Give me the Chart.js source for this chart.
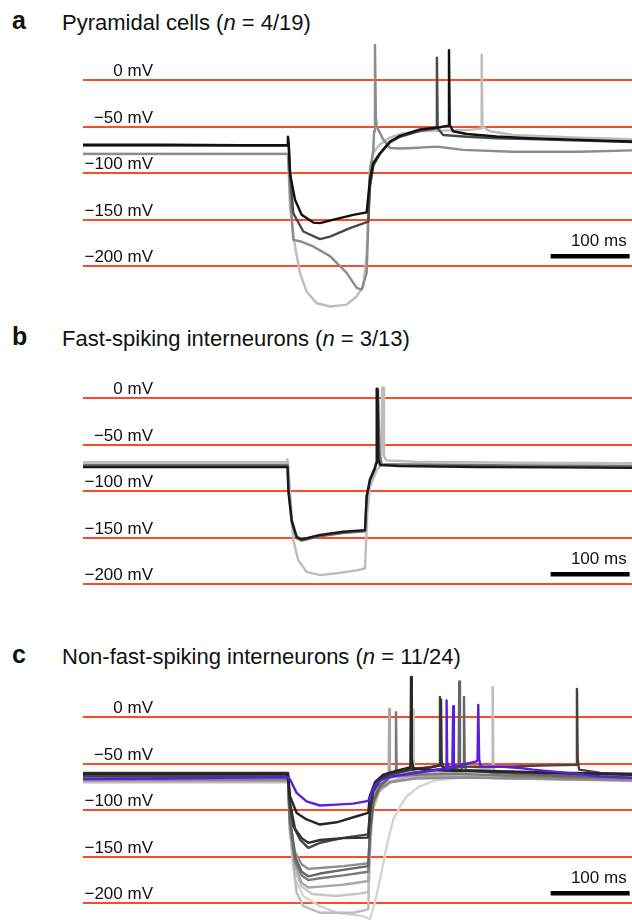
<!DOCTYPE html>
<html>
<head>
<title>Rebound responses</title>
<script src="https://cdn.jsdelivr.net/npm/chart.js"></script>
<style>
  body {
    margin: 0;
    width: 632px;
    height: 920px;
    overflow: hidden;
    background: #fff;
    position: relative;
    font-family: "Liberation Sans", Arial, sans-serif;
    color: #111;
  }
  .letter {
    position: absolute;
    left: 12px;
    font-weight: bold;
    font-size: 25px;
  }
  .title {
    position: absolute;
    left: 62px;
    font-size: 22px;
    white-space: nowrap;
  }
  canvas {
    position: absolute;
    left: 83px;
  }
</style>
</head>
<body>
<div class="letter" style="top:6px">a</div>
<div class="title" style="top:10px">Pyramidal cells (<i>n</i> = 4/19)</div>
<canvas id="pyr" width="549" height="275" style="top:38px"></canvas>

<div class="letter" style="top:322px">b</div>
<div class="title" style="top:326px">Fast-spiking interneurons (<i>n</i> = 3/13)</div>
<canvas id="fs" width="549" height="275" style="top:356px"></canvas>

<div class="letter" style="top:640px">c</div>
<div class="title" style="top:644px">Non-fast-spiking interneurons (<i>n</i> = 11/24)</div>
<canvas id="nfs" width="549" height="275" style="top:675px"></canvas>

<script>
// reference levels (mV) and time window (ms)
const gridLevels = [0, -50, -100, -150, -200];
const timeMax = 695;
const vMin = -250, vMax = 45;

// 100 ms scale bar
const scaleBarT = [592, 692];
const scaleBarV = -189;
const scaleBarLabel = "100 ms";

// a: pyramidal cells, [ms, mV]
const pyrBlack = [[0,-69.5],[100,-69.5],[200,-70],[259,-70],[259.5,-61],[260.5,-70],[262,-100],[268.4,-128.6],[276.8,-144.7],[291.5,-153],[300,-153.6],[321.1,-149],[342.2,-144.7],[359.1,-142],[363.3,-107],[367.5,-89],[376,-78.6],[388.6,-66],[401.3,-60],[426.6,-53],[451.9,-50.7],[462.5,-49],[463.3,32],[464.3,-48],[468.4,-55],[485.7,-58],[523.7,-60.7],[565.8,-62.5],[629.1,-64.3],[695,-66]];
const pyrDark = [[0,-70.5],[259,-70.5],[259.5,-62],[260.5,-72],[263,-110],[266.2,-143],[278.9,-162.6],[300,-170.8],[312.7,-168],[338,-159],[361.1,-152],[363.3,-115],[367.5,-92],[376,-79],[388.6,-67],[401.3,-61],[426.6,-54.5],[447.5,-52],[448,24],[449,-52],[456,-59],[485.7,-61],[523.7,-62.5],[565.8,-63.5],[629.1,-65],[695,-66.5]];
const pyrMid = [[0,-79.3],[259.5,-79.3],[262,-120],[266.2,-171.5],[274.7,-173],[291.5,-178.6],[312.7,-189],[333.8,-207],[346.5,-223],[352.8,-225],[359.1,-207],[363.3,-100],[367.5,-75],[368.5,-55],[369.6,37.5],[370.8,-40],[371.8,-50],[380.1,-64],[388.6,-73],[401.3,-73.5],[417.7,-73],[448.5,-71.5],[481,-75],[544.3,-77],[629.1,-77],[695,-75.6]];
const pyrLight = [[0,-79.5],[259.5,-79.5],[262,-136],[268.4,-178.6],[274.7,-207],[283,-227],[295.8,-239.5],[312.7,-243],[333.8,-241],[346.5,-232],[354.8,-221.5],[359.1,-186],[361.1,-136],[363.3,-93],[367.5,-78],[376,-69],[388.6,-62],[401.3,-58],[426.6,-55],[489.9,-53.6],[504,-52],[504.7,27],[505.7,-50],[515.2,-55],[544.3,-59],[629.1,-62],[695,-63.5]];

// b: fast-spiking interneurons
const fsBlack = [[0,-74],[259,-74],[260,-99],[264.2,-131],[270.5,-149],[276.8,-151.8],[300,-147],[329.5,-143.6],[357,-141.8],[359.1,-106],[363.3,-88],[369.6,-75.7],[371,-70],[371.8,10],[372.8,10],[373.8,-65],[376,-72],[400,-73],[500,-74],[600,-74.5],[695,-75]];
const fsMid = [[0,-72],[259,-72],[260,-100],[264.2,-134],[270.5,-150.5],[276.8,-153],[300,-148.5],[329.5,-145],[357,-143],[359.1,-105],[363.3,-87],[369.6,-74],[372.5,-68],[373.5,8],[374.5,8],[375.5,-62],[378,-71],[450,-71.5],[550,-72.5],[695,-73]];
const fsLight = [[0,-69],[257.7,-69],[258.5,-66],[259.7,-70],[262,-99],[266.2,-152.5],[272.5,-174],[283,-186.5],[300,-190],[321.1,-188],[346.5,-185],[357,-183],[359.9,-124],[363.3,-95],[371.8,-77.5],[377.5,-72],[378.8,11],[380,11],[381,-62],[384,-67],[420,-68.5],[550,-69.5],[695,-70]];

// c: non-fast-spiking interneurons
const nfsPurple = [[0,-66.5],[100,-66],[200,-65],[259.5,-64.5],[262,-67],[270.5,-81.5],[283,-90.5],[300,-95],[321.1,-94],[342.2,-93],[361.1,-90],[365,-82],[369,-74],[376,-68],[388.6,-64],[413.9,-61],[439.2,-58],[454,-56],[459.8,-55],[460.3,17.8],[461,-50],[462,-56],[467.5,-54],[468.7,11.4],[469.5,-50],[471,-53],[481.4,-51],[498.4,-47.6],[499.5,-46],[500.4,12.9],[501.5,-45],[503,-52],[506.7,-53.6],[532,-53.6],[553.2,-54.7],[570,-56.5],[612.3,-60],[654.4,-63.7],[695,-65.4]];
const nfs1 = [[0,-61],[259.5,-61],[262,-85],[270.5,-103],[283,-110],[300,-115.4],[321.1,-113],[346.5,-106.5],[361.1,-103],[363,-85],[369.6,-70],[380,-62],[400,-57],[414.5,-54],[415.3,42.9],[416.2,-45],[418,-55],[440,-57],[480,-58],[540,-59],[620,-61],[695,-62]];
const nfs2 = [[0,-63],[259.5,-63],[262,-95],[266.2,-117],[274.7,-131.5],[285.2,-140.4],[300,-135],[329.5,-129.7],[361.1,-126],[363.5,-100],[367.5,-80],[376,-68],[388.6,-62],[413.9,-57],[440,-54],[451.2,-52],[451.9,21.4],[452.7,-48],[455,-53],[500,-53.5],[545,-53],[590,-52],[624.5,-51.4],[625.3,30],[626.3,-45],[628,-56.5],[655,-60],[695,-62]];
const nfs3 = [[0,-60],[259.5,-60],[262,-92],[268.4,-120],[276.8,-130],[285.2,-135],[300,-132],[329.5,-130],[361.1,-129.5],[363.5,-100],[367.5,-78],[376,-66],[388.6,-60],[413.9,-56],[440,-54],[452.5,-52],[453.2,18.5],[454,-47],[456,-55],[480,-57],[540,-58.5],[620,-60],[695,-61]];
const nfs4 = [[0,-64],[259.5,-64],[262,-110],[268.4,-150],[276.8,-166],[285.2,-171],[300,-168],[329.5,-164],[361.1,-160],[363.5,-120],[367.5,-90],[376,-73],[388.6,-65],[413.9,-60],[450,-56],[475.5,-54],[476.3,38],[477.2,-48],[479,-55],[481.5,-54],[482.3,21.4],[483.2,-48],[485,-57],[520,-60],[600,-63],[695,-65]];
const nfs5 = [[0,-66],[259.5,-66],[262,-115],[268.4,-155],[276.8,-170],[285.2,-175],[300,-173],[329.5,-170],[361.1,-166],[363.5,-125],[367.5,-92],[376,-75],[388.6,-64],[395.5,-60],[396.2,5],[397,-55],[399,-63],[420,-62],[470,-61],[540,-63],[620,-65],[695,-66]];
const nfs6 = [[0,-68],[259.5,-68],[262,-110],[268.4,-145],[276.8,-158],[285.2,-163],[300,-162],[329.5,-160],[361.1,-157],[363.5,-120],[367.5,-92],[376,-77],[388.6,-70],[420,-66],[480,-65],[560,-66],[695,-68]];
const nfs7 = [[0,-67],[259.5,-67],[262,-120],[268.4,-160],[276.8,-178],[285.2,-183],[300,-182],[329.5,-180],[361.1,-176],[363,-130],[366,-95],[372,-75],[380,-66],[387,-60],[387.7,8.6],[388.5,-55],[390,-64],[410,-64],[460,-64],[540,-66],[695,-68]];
const nfs8 = [[0,-70],[259.5,-70],[262,-120],[266.2,-160],[270.5,-188.6],[278.9,-203],[300,-210],[342.2,-210],[361.1,-206.5],[363,-150],[366,-105],[372,-82],[385,-70],[420,-62],[480,-58],[517.8,-55],[518.6,32],[519.4,-48],[521,-58],[560,-62],[640,-66],[695,-68]];
const nfs9 = [[0,-69],[259.5,-69],[262,-125],[268.4,-165],[276.8,-182],[290,-190],[320,-192],[345,-190],[361.1,-188],[363,-140],[367,-100],[375,-80],[390,-70],[405,-64],[417.2,-60],[418,7.8],[418.8,-55],[421,-63],[460,-63],[540,-65],[695,-67]];
const nfs10 = [[0,-68],[259.5,-68],[262,-120],[268.4,-174],[278.9,-192],[300,-203],[321.1,-210],[354.8,-213.7],[363.3,-217],[369.6,-199],[376,-174],[384.4,-138.7],[392.8,-110],[401.3,-96],[410,-85],[425,-75],[445.6,-68],[480,-65],[560,-66],[695,-69]];

const gridColor = "#ff4a28";

// mV labels above the red reference lines, and the scale bar caption
const levelLabels = {
  id: "levelLabels",
  beforeDatasetsDraw(chart) {
    const { ctx, chartArea, scales } = chart;
    ctx.save();
    ctx.font = '17px "Liberation Sans", Arial, sans-serif';
    ctx.fillStyle = "#111";
    ctx.textAlign = "right";
    ctx.textBaseline = "alphabetic";
    gridLevels.forEach(v => {
      const text = (v < 0 ? "\u2212" + (-v) : String(v)) + " mV";
      ctx.fillText(text, chartArea.left + 70, scales.y.getPixelForValue(v) - 4);
    });
    ctx.fillText(scaleBarLabel, scales.x.getPixelForValue(scaleBarT[1]) - 3, scales.y.getPixelForValue(scaleBarV) - 10);
    ctx.restore();
  }
};

function trace(data, color) {
  return { data: data, borderColor: color, borderWidth: 2.4, pointRadius: 0, tension: 0, borderJoinStyle: "round", fill: false };
}

function drawPanel(id, traces) {
  const bar = { data: [[scaleBarT[0], scaleBarV], [scaleBarT[1], scaleBarV]], borderColor: "#000", borderWidth: 4.5, pointRadius: 0, borderCapStyle: "butt" };
  new Chart(document.getElementById(id), {
    type: "line",
    data: { datasets: [bar].concat(traces) },
    options: {
      responsive: false,
      animation: false,
      layout: { padding: 0 },
      plugins: { legend: { display: false }, tooltip: { enabled: false } },
      scales: {
        x: { type: "linear", min: 0, max: timeMax, display: false },
        y: {
          min: vMin,
          max: vMax,
          afterBuildTicks: scale => { scale.ticks = gridLevels.map(v => ({ value: v })); },
          ticks: { display: false },
          border: { display: false },
          grid: { color: gridColor, lineWidth: 2, drawTicks: false, tickLength: 0 }
        }
      }
    },
    plugins: [levelLabels]
  });
}

drawPanel("pyr", [
  trace(pyrBlack, "#111"),
  trace(pyrDark, "#4a4a4a"),
  trace(pyrMid, "#8c8c8c"),
  trace(pyrLight, "#bdbdbd")
]);

drawPanel("fs", [
  trace(fsBlack, "#1a1a1a"),
  trace(fsMid, "#707070"),
  trace(fsLight, "#bcbcbc")
]);

drawPanel("nfs", [
  trace(nfsPurple, "#5a1ee0"),
  trace(nfs1, "#262626"),
  trace(nfs3, "#333"),
  trace(nfs2, "#444"),
  trace(nfs4, "#666"),
  trace(nfs5, "#7a7a7a"),
  trace(nfs6, "#8e8e8e"),
  trace(nfs7, "#a8a8a8"),
  trace(nfs8, "#bcbcbc"),
  trace(nfs9, "#c6c6c6"),
  trace(nfs10, "#d4d4d4")
]);
</script>
</body>
</html>
